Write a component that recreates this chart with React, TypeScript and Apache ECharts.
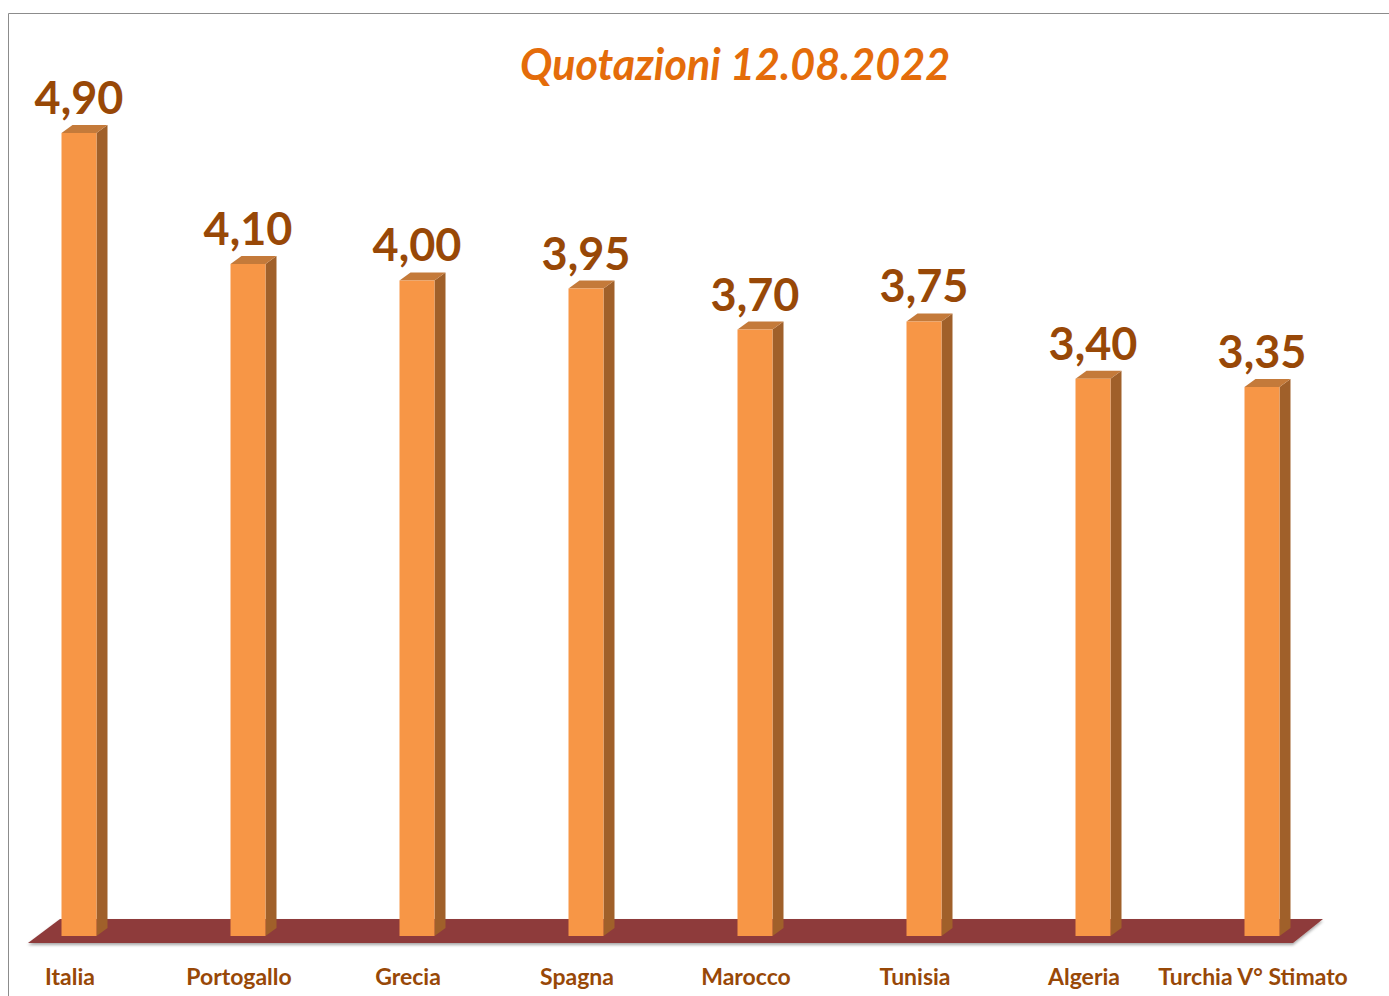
import React, { useEffect, useRef } from "react";
import * as echarts from "echarts";

const categories = [
  "Italia",
  "Portogallo",
  "Grecia",
  "Spagna",
  "Marocco",
  "Tunisia",
  "Algeria",
  "Turchia V° Stimato",
];
const prices = [4.9, 4.1, 4.0, 3.95, 3.7, 3.75, 3.4, 3.35];
const titleText = "Quotazioni 12.08.2022";

const FRONT = "#F79646";
const SIDE = "#A0602A";
const TOP = "#C47A3A";
const FLOOR = "#8E3A3A";
const LABEL = "#984807";
const TITLE = "#E46C0A";

export default function App() {
  const ref = useRef<HTMLDivElement>(null);
  useEffect(() => {
    if (!ref.current) return;
    const chart = echarts.init(ref.current, undefined, { renderer: "svg" });
    const barW = 35;
    const shift = 9;
    const dx = 11;
    const dy = 8;
    const option = {
      animation: false,
      title: {
        text: titleText,
        left: 730,
        top: 37,
        textAlign: "center",
        textStyle: {
          color: TITLE,
          fontFamily: "Lato",
          fontStyle: "italic",
          fontWeight: "bold",
          fontSize: 43,
        },
      },
      graphic: [
        {
          type: "rect",
          shape: { x: 8.5, y: 13.5, width: 1420, height: 1020 },
          style: { fill: "none", stroke: "#8c8c8c", lineWidth: 1 },
          silent: true,
          z: -10,
        },
      ],
      grid: { left: 70, right: 136, top: 116.5, bottom: 60 },
      xAxis: {
        type: "category",
        data: categories,
        boundaryGap: false,
        axisLine: { show: false },
        axisTick: { show: false },
        splitLine: { show: false },
        axisLabel: {
          interval: 0,
          margin: 28,
          color: LABEL,
          fontFamily: "Lato",
          fontWeight: "bold",
          fontSize: 23,
        },
      },
      yAxis: {
        type: "value",
        min: 0,
        max: 5,
        show: false,
        splitLine: { show: false },
      },
      series: [
        {
          type: "custom",
          z: 1,
          silent: true,
          data: [[0, 0]],
          encode: { x: 0, y: 1 },
          renderItem: (params: any, api: any) => {
            const a = api.coord([0, 0]);
            const b = api.coord([categories.length - 1, 0]);
            const yb = a[1] + 7;
            const yt = a[1] - 17;
            return {
              type: "polygon",
              shape: {
                points: [
                  [a[0] - 42, yb],
                  [a[0] - 10, yt],
                  [b[0] + 70, yt],
                  [b[0] + 40, yb],
                ],
              },
              style: {
                fill: FLOOR,
                shadowBlur: 3,
                shadowColor: "rgba(0,0,0,0.35)",
                shadowOffsetY: 2,
              },
            };
          },
        },
        {
          type: "custom",
          z: 2,
          silent: true,
          data: prices.map((v, i) => [i, v]),
          encode: { x: 0, y: 1 },
          renderItem: (params: any, api: any) => {
            const i = api.value(0);
            const v = api.value(1);
            const top = api.coord([i, v]);
            const base = api.coord([i, 0]);
            const cx = top[0] + shift;
            const x0 = cx - barW / 2;
            const x1 = cx + barW / 2;
            const yT = top[1];
            const yB = base[1];
            return {
              type: "group",
              children: [
                {
                  type: "polygon",
                  shape: {
                    points: [
                      [x1, yB],
                      [x1, yT],
                      [x1 + dx, yT - dy],
                      [x1 + dx, yB - dy],
                    ],
                  },
                  style: { fill: SIDE },
                },
                {
                  type: "polygon",
                  shape: {
                    points: [
                      [x0, yT],
                      [x0 + dx, yT - dy],
                      [x1 + dx, yT - dy],
                      [x1, yT],
                    ],
                  },
                  style: { fill: TOP },
                },
                {
                  type: "rect",
                  shape: { x: x0, y: yT, width: barW, height: yB - yT },
                  style: { fill: FRONT },
                },
                {
                  type: "text",
                  x: cx,
                  y: yT - 36,
                  style: {
                    text: v.toFixed(2).replace(".", ","),
                    fill: LABEL,
                    font: "bold 45px Lato",
                    align: "center",
                    verticalAlign: "middle",
                  },
                },
              ],
            };
          },
        },
      ],
    };
    chart.setOption(option as any);
    return () => chart.dispose();
  }, []);
  return (
    <div
      ref={ref}
      style={{ position: "fixed", left: 0, top: 0, width: 1389, height: 996, background: "#fff" }}
    />
  );
}
